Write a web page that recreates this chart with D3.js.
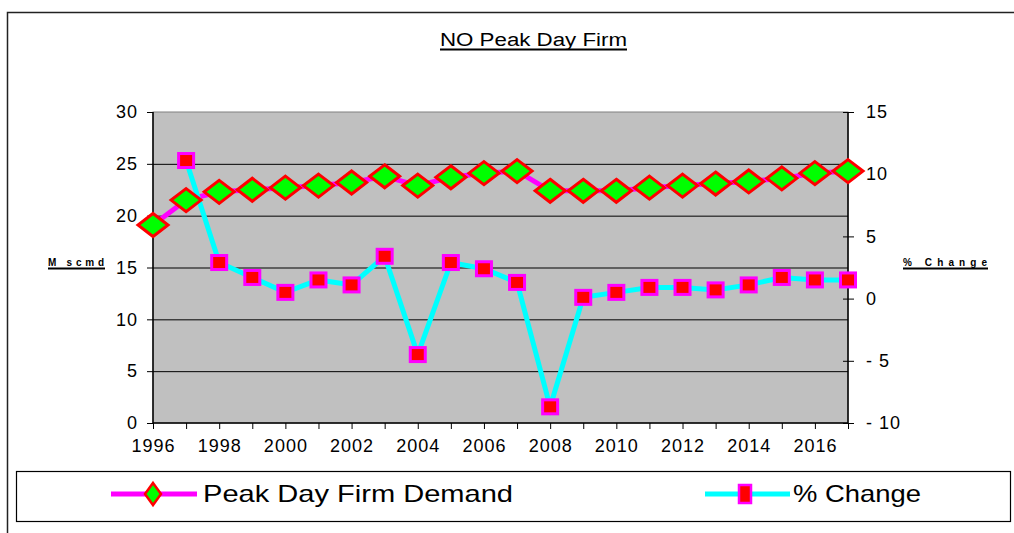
<!DOCTYPE html>
<html><head><meta charset="utf-8">
<script src="https://cdn.jsdelivr.net/npm/d3@7"></script>
<style>body{margin:0;background:#fff}svg{display:block;font-family:"Liberation Sans",Arial,sans-serif}</style>
</head><body><svg id="c" width="1014" height="533"></svg>
<script>
const years = [1996,1997,1998,1999,2000,2001,2002,2003,2004,2005,2006,2007,2008,2009,2010,2011,2012,2013,2014,2015,2016,2017];
const peakDay = [19.1,21.5,22.3,22.5,22.7,22.9,23.2,23.8,22.9,23.7,24.1,24.3,22.4,22.4,22.4,22.7,22.9,23.1,23.3,23.6,24.1,24.3];
const pctChange = [null,11.1,2.9,1.7,0.5,1.5,1.1,3.4,-4.5,2.9,2.4,1.3,-8.7,0.1,0.5,0.9,0.9,0.7,1.1,1.7,1.5,1.5];
const leftTicks = [0,5,10,15,20,25,30];
const rightTicks = [-10,-5,0,5,10,15];
const xTickYears = [1996,1998,2000,2002,2004,2006,2008,2010,2012,2014,2016];

const svg = d3.select("#c");
const L = 153, R = 848, T = 112, B = 423;
const x = d3.scaleLinear().domain([1996,2017]).range([L,R]);
const yL = d3.scaleLinear().domain([0,30]).range([B,T]);
const yR = d3.scaleLinear().domain([-10,15]).range([B,T]);

// outer frame
svg.append("rect").attr("x",7.5).attr("y",12.5).attr("width",1030).attr("height",540)
  .attr("fill","none").attr("stroke","#222").attr("stroke-width",1.5);

// title
svg.append("text").attr("x",440).attr("y",46)
  .attr("font-size",18).attr("textLength",187).attr("lengthAdjust","spacingAndGlyphs")
  .text("NO Peak Day Firm");
svg.append("line").attr("x1",440).attr("x2",627).attr("y1",49.5).attr("y2",49.5).attr("stroke","#000").attr("stroke-width",2);

// plot area
svg.append("rect").attr("x",L).attr("y",T).attr("width",R-L).attr("height",B-T)
  .attr("fill","#c0c0c0").attr("stroke","#808080");

// gridlines
svg.append("g").selectAll("line").data(leftTicks.filter(d=>d>0&&d<30)).join("line")
  .attr("x1",L).attr("x2",R).attr("y1",d=>yL(d)+0.5).attr("y2",d=>yL(d)+0.5)
  .attr("stroke","#000").attr("stroke-width",1);

// left axis
const gL = svg.append("g").attr("transform",`translate(${L},0)`)
  .call(d3.axisLeft(yL).tickValues(leftTicks).tickSize(6).tickPadding(9));
gL.selectAll("text").attr("font-size",18).attr("fill","#000").attr("font-family","Liberation Sans, Arial").attr("letter-spacing",1);

// right axis
const gR = svg.append("g").attr("transform",`translate(${R},0)`)
  .call(d3.axisRight(yR).tickValues(rightTicks).tickSize(6).tickPadding(12).tickFormat(d=>d<0?"- "+Math.abs(d):d));
gR.selectAll(".tick line").attr("x1",-5);
gR.selectAll("text").attr("font-size",18).attr("fill","#000").attr("font-family","Liberation Sans, Arial").attr("letter-spacing",1);

// bottom axis
const gB = svg.append("g").attr("transform",`translate(0,${B})`)
  .call(d3.axisBottom(x).tickValues(years).tickSize(6).tickPadding(10).tickFormat(d=>xTickYears.includes(d)?d:""));
gB.selectAll("text").attr("font-size",18).attr("fill","#000").attr("font-family","Liberation Sans, Arial").attr("letter-spacing",1);
[gL,gR,gB].forEach(g=>{g.select(".domain").attr("stroke","#000").attr("stroke-width",1.5);g.selectAll(".tick line").attr("stroke","#000");});
gB.select(".domain").attr("d",`M${L},0H${R}`);
gL.select(".domain").attr("d",`M0,${T}V${B}`);
gR.select(".domain").attr("d",`M0,${T}V${B}`);

// axis titles
svg.append("text").attr("x",48).attr("y",266).attr("font-size",10).attr("font-weight","bold")
  .attr("textLength",56).attr("lengthAdjust","spacing").text("M scmd");
svg.append("line").attr("x1",48).attr("x2",105).attr("y1",268.5).attr("y2",268.5).attr("stroke","#000").attr("stroke-width",2);
svg.append("text").attr("x",903).attr("y",266).attr("font-size",10).attr("font-weight","bold")
  .attr("textLength",84).attr("lengthAdjust","spacing").text("%  Change");
svg.append("line").attr("x1",903).attr("x2",988).attr("y1",268.5).attr("y2",268.5).attr("stroke","#000").attr("stroke-width",2);

// series lines
const lineL = d3.line().x((d,i)=>x(years[i])).y(d=>yL(d));
const lineR = d3.line().defined(d=>d!==null).x((d,i)=>x(years[i])).y(d=>yR(d));
svg.append("path").datum(peakDay).attr("d",lineL).attr("fill","none").attr("stroke","#ff00ff").attr("stroke-width",5);
svg.append("path").datum(pctChange).attr("d",lineR).attr("fill","none").attr("stroke","#00ffff").attr("stroke-width",5);

const diamond = (cx,cy,w,h)=>`M${cx},${cy-h}L${cx+w},${cy}L${cx},${cy+h}L${cx-w},${cy}Z`;
svg.append("g").selectAll("path").data(peakDay).join("path")
  .attr("d",(d,i)=>diamond(x(years[i]),yL(d),15,11.5))
  .attr("fill","#00ff00").attr("stroke","#ff0000").attr("stroke-width",3);

svg.append("g").selectAll("rect").data(pctChange.map((v,i)=>({v,i})).filter(d=>d.v!==null)).join("rect")
  .attr("x",d=>x(years[d.i])-7.5).attr("y",d=>yR(d.v)-7).attr("width",15).attr("height",14)
  .attr("fill","#ff0000").attr("stroke","#ff00ff").attr("stroke-width",3);

// legend
svg.append("rect").attr("x",16.5).attr("y",471.5).attr("width",994).attr("height",50)
  .attr("fill","#fff").attr("stroke","#000").attr("stroke-width",1.2);
const lg = svg.append("g");
lg.append("line").attr("x1",111).attr("x2",197).attr("y1",494).attr("y2",494).attr("stroke","#ff00ff").attr("stroke-width",5);
lg.append("path").attr("d",diamond(153,494,8,11)).attr("fill","#00ff00").attr("stroke","#ff0000").attr("stroke-width",2.5);
lg.append("text").attr("x",203).attr("y",502).attr("font-size",24).attr("textLength",310).attr("lengthAdjust","spacingAndGlyphs").text("Peak Day Firm Demand");
lg.append("line").attr("x1",705).attr("x2",790).attr("y1",494).attr("y2",494).attr("stroke","#00ffff").attr("stroke-width",5);
lg.append("rect").attr("x",739).attr("y",485).attr("width",12).attr("height",18).attr("fill","#ff0000").attr("stroke","#ff00ff").attr("stroke-width",2.5);
lg.append("text").attr("x",793).attr("y",502).attr("font-size",24).attr("textLength",128).attr("lengthAdjust","spacingAndGlyphs").text("% Change");
</script></body></html>
